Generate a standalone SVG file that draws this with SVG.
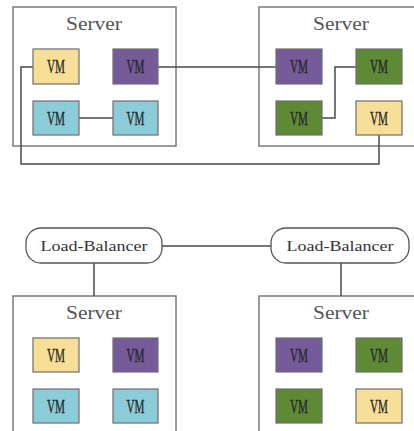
<svg xmlns="http://www.w3.org/2000/svg" width="414" height="431" viewBox="0 0 414 431">
<style>
.srv{fill:#fff;stroke:#7a7a7a;stroke-width:1.5}
.vm{stroke:#6e6e6e;stroke-width:1.2}
.y{fill:#f8df98}.p{fill:#765b9b}.c{fill:#8ccbd8}.g{fill:#5e8a36}
.vt{font-family:"Liberation Serif","DejaVu Serif",serif;font-size:18px;fill:#262626;text-anchor:middle;stroke:#262626;stroke-width:0.3}
.st{font-family:"Liberation Serif","DejaVu Serif",serif;font-size:18px;fill:#555;text-anchor:middle}
.lb{fill:#fff;stroke:#555;stroke-width:1.3}
.lt{font-family:"Liberation Serif","DejaVu Serif",serif;font-size:15px;fill:#333;text-anchor:middle}
.ln{fill:none;stroke:#4a4a4a;stroke-width:1.5}
</style>
<rect width="414" height="431" fill="#fff"/>
<g id="server-top-left">
<rect class="srv" x="13" y="7" width="163" height="139"/>
<text class="st" x="94" y="30" textLength="56" lengthAdjust="spacingAndGlyphs">Server</text>
</g>
<g id="server-top-right">
<rect class="srv" x="259" y="7" width="170" height="139"/>
<text class="st" x="341" y="30" textLength="56" lengthAdjust="spacingAndGlyphs">Server</text>
</g>
<g id="server-bottom-left">
<rect class="srv" x="13" y="296" width="163" height="150"/>
<text class="st" x="94" y="319" textLength="56" lengthAdjust="spacingAndGlyphs">Server</text>
</g>
<g id="server-bottom-right">
<rect class="srv" x="259" y="296" width="170" height="150"/>
<text class="st" x="341" y="319" textLength="56" lengthAdjust="spacingAndGlyphs">Server</text>
</g>
<g id="connectors">
<path class="ln" d="M158 67H276"/>
<path class="ln" d="M79 118H113"/>
<path class="ln" d="M322 118H335V67H356"/>
<path class="ln" d="M33 67H21V164H379V135"/>
<path class="ln" d="M162 246H271"/>
<path class="ln" d="M94 263V296"/>
<path class="ln" d="M341 263V296"/>
</g>
<g id="vm-tl-1"><rect class="vm y" x="33" y="49" width="46" height="35"/><text class="vt" x="56" y="73" textLength="18" lengthAdjust="spacingAndGlyphs">VM</text></g>
<g id="vm-tl-2"><rect class="vm p" x="113" y="49" width="45" height="35"/><text class="vt" x="135.5" y="73" textLength="18" lengthAdjust="spacingAndGlyphs">VM</text></g>
<g id="vm-tl-3"><rect class="vm c" x="33" y="101" width="46" height="34"/><text class="vt" x="56" y="124.5" textLength="18" lengthAdjust="spacingAndGlyphs">VM</text></g>
<g id="vm-tl-4"><rect class="vm c" x="113" y="101" width="45" height="34"/><text class="vt" x="135.5" y="124.5" textLength="18" lengthAdjust="spacingAndGlyphs">VM</text></g>
<g id="vm-tr-1"><rect class="vm p" x="276" y="49" width="46" height="35"/><text class="vt" x="299" y="73" textLength="18" lengthAdjust="spacingAndGlyphs">VM</text></g>
<g id="vm-tr-2"><rect class="vm g" x="356" y="49" width="46" height="35"/><text class="vt" x="379" y="73" textLength="18" lengthAdjust="spacingAndGlyphs">VM</text></g>
<g id="vm-tr-3"><rect class="vm g" x="276" y="101" width="46" height="34"/><text class="vt" x="299" y="124.5" textLength="18" lengthAdjust="spacingAndGlyphs">VM</text></g>
<g id="vm-tr-4"><rect class="vm y" x="356" y="101" width="46" height="34"/><text class="vt" x="379" y="124.5" textLength="18" lengthAdjust="spacingAndGlyphs">VM</text></g>
<g id="lb-left"><rect class="lb" x="26" y="228" width="136" height="35" rx="15" ry="15"/><text class="lt" x="94" y="251" textLength="107" lengthAdjust="spacingAndGlyphs">Load-Balancer</text></g>
<g id="lb-right"><rect class="lb" x="271" y="228" width="138" height="35" rx="15" ry="15"/><text class="lt" x="340" y="251" textLength="107" lengthAdjust="spacingAndGlyphs">Load-Balancer</text></g>
<g id="vm-bl-1"><rect class="vm y" x="33" y="338" width="46" height="34"/><text class="vt" x="56" y="361.5" textLength="18" lengthAdjust="spacingAndGlyphs">VM</text></g>
<g id="vm-bl-2"><rect class="vm p" x="113" y="338" width="45" height="34"/><text class="vt" x="135.5" y="361.5" textLength="18" lengthAdjust="spacingAndGlyphs">VM</text></g>
<g id="vm-bl-3"><rect class="vm c" x="33" y="389" width="46" height="34"/><text class="vt" x="56" y="412.5" textLength="18" lengthAdjust="spacingAndGlyphs">VM</text></g>
<g id="vm-bl-4"><rect class="vm c" x="113" y="389" width="45" height="34"/><text class="vt" x="135.5" y="412.5" textLength="18" lengthAdjust="spacingAndGlyphs">VM</text></g>
<g id="vm-br-1"><rect class="vm p" x="276" y="338" width="46" height="34"/><text class="vt" x="299" y="361.5" textLength="18" lengthAdjust="spacingAndGlyphs">VM</text></g>
<g id="vm-br-2"><rect class="vm g" x="356" y="338" width="46" height="34"/><text class="vt" x="379" y="361.5" textLength="18" lengthAdjust="spacingAndGlyphs">VM</text></g>
<g id="vm-br-3"><rect class="vm g" x="276" y="389" width="46" height="34"/><text class="vt" x="299" y="412.5" textLength="18" lengthAdjust="spacingAndGlyphs">VM</text></g>
<g id="vm-br-4"><rect class="vm y" x="356" y="389" width="46" height="34"/><text class="vt" x="379" y="412.5" textLength="18" lengthAdjust="spacingAndGlyphs">VM</text></g>
</svg>
